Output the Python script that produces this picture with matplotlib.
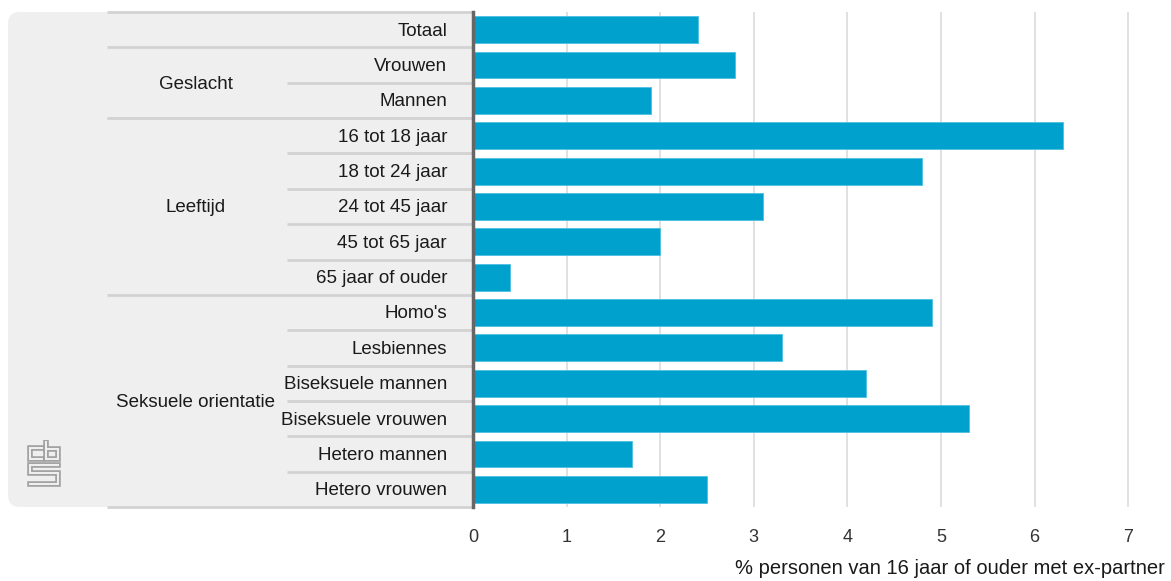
import matplotlib.pyplot as plt
import matplotlib.patheffects as pe
from matplotlib.patches import FancyBboxPatch

# Data
categories = ['Totaal', 'Vrouwen', 'Mannen', '16 tot 18 jaar', '18 tot 24 jaar', '24 tot 45 jaar',
              '45 tot 65 jaar', '65 jaar of ouder', "Homo's", 'Lesbiennes', 'Biseksuele mannen',
              'Biseksuele vrouwen', 'Hetero mannen', 'Hetero vrouwen']
values = [2.4, 2.8, 1.9, 6.3, 4.8, 3.1, 2.0, 0.4, 4.9, 3.3, 4.2, 5.3, 1.7, 2.5]
groups = ['', 'Geslacht', 'Leeftijd', 'Seksuele orientatie']
group_sizes = [1, 2, 5, 6]
xticks = [0, 1, 2, 3, 4, 5, 6, 7]
xlabel = '% personen van 16 jaar of ouder met ex-partner'

plt.rcParams['font.family'] = ['Liberation Sans', 'DejaVu Sans']

W, H = 1171, 581
fig = plt.figure(figsize=(W / 100, H / 100), dpi=100)

top, bottom = 12, 507
x0, x_right = 473, 1166
n = len(categories)
txt_color = '#1a1a1a'

def fbox(l, t, r, b):
    return [l / W, 1 - b / H, (r - l) / W, (b - t) / H]

# label panel
ax_lab = fig.add_axes(fbox(8, top, x0, bottom))
ax_lab.set_xlim(0, x0 - 8)
ax_lab.set_ylim(n - 0.5, -0.5)
ax_lab.axis('off')
panel = FancyBboxPatch((0, -0.5), x0 - 8 + 30, n, boxstyle='round,pad=0,rounding_size=12',
                       mutation_aspect=1 / 35.4, facecolor='#efefef', edgecolor='none', zorder=0)
ax_lab.add_patch(panel)

sep_color = '#d2d2d2'
long_x = 107 - 8
short_x = 287 - 8
end_x = x0 - 8
start = 0
ax_lab.hlines(-0.5, long_x, end_x, color=sep_color, lw=2, zorder=2, clip_on=False)
for g, size in zip(groups, group_sizes):
    for k in range(1, size):
        ax_lab.hlines(start + k - 0.5, short_x, end_x, color=sep_color, lw=2, zorder=2)
    ax_lab.hlines(start + size - 0.5, long_x, end_x, color=sep_color, lw=2, zorder=2, clip_on=False)
    if g:
        ax_lab.text(196 - 8, start + (size - 1) / 2 + 0.04, g, ha='center', va='center',
                    fontsize=13.5, color=txt_color, zorder=3)
    start += size

for i, c in enumerate(categories):
    ax_lab.text(447 - 8, i + 0.04, c, ha='right', va='center', fontsize=13.5, color=txt_color, zorder=3)

# logo
ax_logo = fig.add_axes(fbox(26, 440, 62, 487))
ax_logo.set_xlim(-0.5, 10.5)
ax_logo.set_ylim(-0.5, 15)
ax_logo.axis('off')
outline = [pe.Stroke(linewidth=4.0, foreground='#a0a0a0'), pe.Stroke(linewidth=1.5, foreground='#efefef')]
logo_paths = [
    ([4.5, 0.7, 0.7, 4.5], [12.4, 12.4, 8.7, 8.7]),
    ([5.7, 5.7, 9.3, 9.3, 5.7], [14.4, 8.7, 8.7, 12.0, 12.0]),
    ([9.3, 0.7, 0.7, 9.3, 9.3, 0.7], [6.8, 6.8, 4.0, 4.0, 0.4, 0.4]),
]
for px, py in logo_paths:
    ax_logo.plot(px, py, color='#a0a0a0', lw=4.0, solid_joinstyle='miter',
                 path_effects=outline)

# main bars
ax = fig.add_axes(fbox(x0, top, x_right, bottom))
ax.barh(range(n), values, height=0.76, color='#00a1cd', edgecolor='#4cc0e0', linewidth=0.6, zorder=2)
ax.set_ylim(n - 0.5, -0.5)
ax.set_xlim(0, (x_right - x0) / 93.6)
ax.set_xticks(xticks)
ax.set_xticklabels([str(t) for t in xticks], fontsize=13, color='#333333')
ax.tick_params(axis='x', length=0, pad=16)
ax.set_yticks([])
ax.grid(axis='x', color='#dcdcdc', lw=1.2, zorder=0)
for s in ['top', 'right', 'bottom']:
    ax.spines[s].set_visible(False)
ax.spines['left'].set_color('#666666')
ax.spines['left'].set_linewidth(2.5)
ax.spines['left'].set_zorder(3)

fig.text(1165 / W, 1 - 569 / H, xlabel, ha='right', va='center', fontsize=14.5, color=txt_color)

fig.savefig('out.png', dpi=100)
